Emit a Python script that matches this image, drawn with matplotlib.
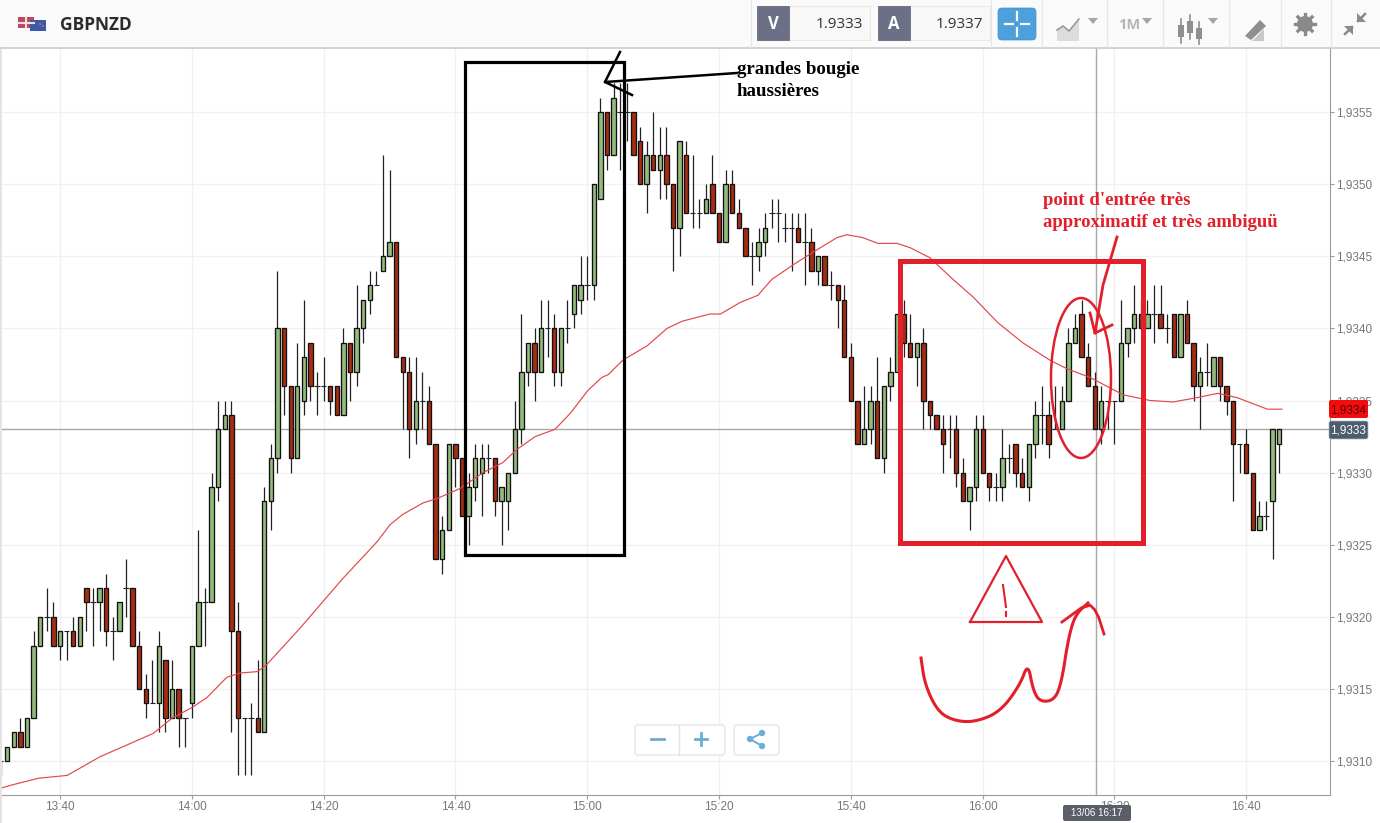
import numpy as np
import matplotlib
matplotlib.use('Agg')
import matplotlib.pyplot as plt
from matplotlib.patches import Rectangle, Ellipse, FancyBboxPatch, Polygon, Circle

# candles, one per minute from 13:31, prices as pips above 1.9300
opens = [10,10,11,12,11,13,18,20,20,18,19,19,18,22,21,21,22,19,19,22,22,18,15,14,14,17,13,15,13,
         14,18,21,21,29,33,34,19,13,13,13,12,28,31,40,36,31,35,39,36,36,36,36,34,39,37,40,42,43,44,45,46,38,37,33,35,35,32,24,26,
         32,31,27,29,30,31,31,28,28,30,33,37,39,37,40,40,37,40,41,42,
         43,43,49,55,52,55,55,55,53,50,52,51,52,50,47,52,48,48,48,50,48,46,50,48,47,45,45,46,48,48,47,47,47,46,46,44,45,43,43,42,
         38,35,32,33,35,31,36,37,41,39,38,39,35,34,33,33,33,30,28,29,
         33,30,29,29,31,32,30,29,32,34,34,33,33,35,39,41,38,36,33,35,35,35,39,40,41,40,41,41,40,41,38,41,39,36,37,36,38,36,35,32,32,30,26,27,28,32]
closes = [10,11,12,11,13,18,20,20,18,19,19,18,20,21,21,22,19,19,21,22,18,15,14,14,18,13,15,13,13,
          18,21,21,29,33,34,19,13,13,13,12,28,31,40,36,31,36,38,36,36,36,35,34,39,37,40,42,43,43,45,46,38,37,33,35,35,32,24,26,32,
          31,27,29,31,31,31,28,29,30,33,37,39,37,40,40,37,40,40,43,43,
          43,50,55,52,56,55,55,52,50,52,51,52,50,47,53,48,48,48,49,48,46,50,48,47,45,45,46,47,48,48,47,47,46,46,44,45,43,43,42,38,
          35,32,33,35,31,36,37,41,39,38,39,35,34,33,32,33,30,28,29,33,
          30,29,29,31,31,30,29,32,34,34,32,33,35,39,40,38,36,33,35,35,35,39,40,41,40,41,41,40,40,38,41,39,36,37,37,38,36,35,32,32,30,26,27,27,33,33]
highs = [10,11,12,13,13,19,20,22,21,19,19,20,20,22,22,22,23,20,21,24,22,19,16,17,19,17,17,15,13,
         18,26,22,30,35,35,35,21,13,14,17,29,32,44,40,36,39,42,39,37,38,36,36,40,39,43,42,44,44,52,51,46,38,38,38,37,36,32,27,32,
         32,31,30,32,32,32,31,29,30,35,41,39,40,42,42,41,40,42,43,45,
         45,50,56,55,57,57,57,55,54,53,55,54,54,50,53,53,52,49,50,52,48,51,51,49,47,46,47,48,49,49,48,48,48,48,47,45,45,44,43,43,
         39,35,36,36,38,36,38,41,42,41,39,40,35,34,34,34,34,31,29,34,
         34,30,30,33,32,32,31,32,35,36,35,36,36,40,41,42,39,37,36,35,35,42,40,43,42,42,43,43,41,41,41,42,39,38,39,38,38,36,35,32,33,30,28,28,33,33]
lows = [9,10,11,11,11,13,18,19,18,17,17,18,18,19,18,19,18,17,19,20,18,15,13,14,12,12,13,11,11,
        13,18,18,21,28,33,12,9,9,9,12,12,26,30,34,30,31,34,35,34,35,34,34,34,35,36,39,41,43,44,45,38,33,31,32,33,32,24,23,26,
        29,27,25,28,27,30,27,25,26,30,32,36,35,37,38,36,36,39,40,41,
        42,42,49,51,52,51,53,52,50,48,51,49,49,44,45,48,47,47,48,48,46,46,48,47,45,43,44,45,47,46,46,44,46,43,44,43,43,42,40,38,
        35,32,32,32,31,30,35,37,38,38,36,33,33,33,30,31,29,28,26,28,
        30,28,28,28,30,29,29,28,31,32,31,33,33,35,39,38,36,33,32,33,32,35,38,39,40,40,39,40,39,38,38,39,35,33,36,36,35,34,28,30,30,26,26,26,24,30]

# moving average: minutes after 13:31, pips
ma_minutes = [0,1.4,5.7,10.1,15.1,19.6,23.1,26.1,29,31.3,34.3,36.3,39,40.4,42.8,45.4,51.8,57.1,59.1,61,64.1,66.2,69.7,
              73.2,76.2,78.3,81.1,84.1,86.4,89.1,91.2,92.2,94.4,98.1,101.1,103.4,107.6,109.2,112.2,114.9,117,120.2,
              123.3,126.9,128.4,130.8,133.1,136,138,141,144.5,147.5,151.3,155.1,159.2,161.8,165.3,170.3,174.4,177.9,
              181.5,184.7,187.6,192.2,194.4]
ma_pips = [8.1,8.3,8.8,9,10.3,11.2,11.9,13,13.7,14.4,15.8,16.1,16.2,16.7,17.9,19.2,22.6,25.2,26.4,27.1,27.9,28.2,28.9,
           30,30.7,31.6,32.5,33,34.1,35.7,36.6,36.8,37.8,38.8,40,40.5,41,41,41.8,42.3,43.4,44.4,
           45.3,46.3,46.5,46.3,45.9,45.9,45.6,44.9,43.4,42.2,40.4,39,37.8,37.2,36.6,35.4,35,34.9,
           35.2,35.5,35.2,34.4,34.4]

time_ticks = [9,29,49,69,89,109,129,149,169,189]
time_labels = ['13:40','14:00','14:20','14:40','15:00','15:20','15:40','16:00','16:20','16:40']
price_ticks = [1.9310,1.9315,1.9320,1.9325,1.9330,1.9335,1.9340,1.9345,1.9350,1.9355]


def price(p):
    return 1.93 + np.asarray(p, dtype=float) * 0.0001


def soften(xs, ys, rounds=3):
    # rounds off the corners of the hand drawn strokes
    pts = np.column_stack([xs, ys]).astype(float)
    for _ in range(rounds):
        q = 0.75 * pts[:-1] + 0.25 * pts[1:]
        r = 0.25 * pts[:-1] + 0.75 * pts[1:]
        mid = np.empty((q.shape[0] * 2, 2))
        mid[0::2] = q
        mid[1::2] = r
        pts = np.vstack([pts[0], mid, pts[-1]])
    return pts[:, 0], pts[:, 1]


o = price(opens)
c = price(closes)
h = price(highs)
l = price(lows)
t = np.arange(len(o))

GREEN = '#93bb7e'
RED = '#a62d13'
DRAW = '#e2202c'
GRID = '#f1f1f1'
LINE = '#9c9c9c'
TXT = '#777777'

plt.rcParams['font.family'] = ['Liberation Sans', 'DejaVu Sans']
fig = plt.figure(figsize=(13.8, 8.23), dpi=100)
ax = fig.add_axes([0, 28 / 823, 1330 / 1380, 747 / 823])

ax.vlines(t, l, h, color='#222222', lw=0.9, zorder=3)
up = c > o
down = c < o
ax.bar(t[up], (c - o)[up], bottom=o[up], width=0.66, color=GREEN, edgecolor='#111111', lw=0.95, zorder=4)
ax.bar(t[down], (o - c)[down], bottom=c[down], width=0.66, color=RED, edgecolor='#111111', lw=0.95, zorder=4)
flat = c == o
ax.hlines(o[flat], t[flat] - 0.42, t[flat] + 0.42, color='#222222', lw=0.8, zorder=4)
ax.plot(ma_minutes, price(ma_pips), color='#e2474a', lw=0.85, zorder=5)

ax.axhline(price(33), color='#a8a8a8', lw=1, zorder=2)
ax.axvline(166.2, color='#a8a8a8', lw=1, zorder=2)

ax.set_xlim(-0.106, 201.7)
ax.set_ylim(price(7.64), price(59.45))
ax.set_xticks(time_ticks, time_labels)
ax.set_yticks(price_ticks, [f'{v:.4f}'.replace('.', ',') for v in price_ticks])
ax.yaxis.tick_right()
ax.grid(True, color=GRID, lw=1)
ax.set_axisbelow(True)
ax.tick_params(axis='both', labelsize=8.5, colors=TXT, length=3, width=0.8, color=LINE, pad=1)
for s in ['top', 'left']:
    ax.spines[s].set_visible(False)
for s in ['right', 'bottom']:
    ax.spines[s].set_color(LINE)

# overlay in pixels: toolbar, labels and the hand drawn marks
ov = fig.add_axes([0, 0, 1, 1], zorder=10)
ov.set_xlim(0, 1380)
ov.set_ylim(823, 0)
ov.axis('off')
ov.patch.set_alpha(0)

ov.add_patch(Rectangle((0, 0), 1380, 47, fc='#fafafa', ec='none'))
ov.plot([0, 1380], [47.5, 47.5], color='#cbcbcb', lw=1.2)
ov.add_patch(Rectangle((0, 47), 2, 776, fc='#e4e4e4', ec='none'))

# flags
ov.add_patch(Rectangle((18, 17), 16, 11, fc='#b84a5e', ec='none'))
ov.plot([18, 34], [22.5, 22.5], color='#f2dfe2', lw=1.5)
ov.plot([26, 26], [17, 28], color='#f2dfe2', lw=1.5)
ov.add_patch(Rectangle((30, 20), 16, 11, fc='#3c5aa8', ec='none'))
ov.add_patch(Circle((40, 24), 1, fc='#e06070', ec='none'))
ov.add_patch(Circle((43, 26), 1, fc='#e06070', ec='none'))
ov.text(60, 25, 'GBPNZD', family='Open Sans', weight='bold', fontsize=12.5, color='#2b2b2b', va='center')

# bid / ask boxes
for x0, x1, letter, val in [(757, 870, 'V', '1.9333'), (878, 990, 'A', '1.9337')]:
    ov.add_patch(Rectangle((x0, 6), x1 - x0, 34, fc='#f8f8f8', ec='#e8e8e8', lw=0.8))
    ov.add_patch(Rectangle((x0, 6), 32, 34, fc='#6b7086', ec='#5a5f75', lw=0.5))
    ov.text(x0 + 16, 24, letter, family='Open Sans', weight='bold', fontsize=12, color='white', ha='center', va='center')
    ov.text(x1 - 7, 24, val, family='Open Sans', fontsize=11, color='#333333', ha='right', va='center')
ov.add_patch(FancyBboxPatch((1000, 10), 34, 28, boxstyle='round,pad=2,rounding_size=4', fc='#4da0dc', ec='#4090cc', lw=0.5))
for a, b in [((1005, 24), (1013, 24)), ((1021, 24), (1029, 24)), ((1017, 12), (1017, 20)), ((1017, 28), (1017, 36))]:
    ov.plot([a[0], b[0]], [a[1], b[1]], color='white', lw=1.6)
for x in [751, 991, 1042, 1107, 1163, 1229, 1281, 1331]:
    ov.plot([x, x], [0, 47], color='#e6e6e6', lw=0.9)

ov.add_patch(Polygon([(1057, 41), (1057, 30), (1063, 26), (1069, 31), (1079, 19), (1079, 41)], fc='#dcdcdc', ec='none'))
ov.plot([1057, 1063, 1069, 1079], [30, 26, 31, 19], color='#999999', lw=1.2)
for x in [1093, 1147, 1213]:
    ov.add_patch(Polygon([(x - 5, 18), (x + 5, 18), (x, 24)], fc='#a5a5a5', ec='none'))
ov.text(1129, 25, '1M', family='Open Sans', weight='bold', fontsize=10.5, color='#b5b5b5', ha='center', va='center')
for x, top, bot, y0, y1 in [(1181, 19, 43, 25, 37), (1190, 15, 39, 21, 33), (1199, 22, 44, 28, 39)]:
    ov.plot([x, x], [top, bot], color='#8f8f8f', lw=1.2)
    ov.add_patch(Rectangle((x - 3, y0), 6, y1 - y0, fc='#8f8f8f', ec='none'))
ov.add_patch(Polygon([(1252, 41), (1264, 29), (1264, 41)], fc='#c8c8c8', ec='none'))
ov.add_patch(Polygon([(1245, 36), (1260, 20), (1266, 26), (1251, 40)], fc='#8f8f8f', ec='none'))
for a in np.deg2rad(np.arange(0, 360, 45)):
    ov.plot([1305, 1305 + 10 * np.cos(a)], [24, 24 + 10 * np.sin(a)], color='#8a8a8a', lw=2.4)
ov.add_patch(Circle((1305, 24), 8, fc='#8a8a8a', ec='none'))
ov.add_patch(Circle((1305, 24), 3.5, fc='#fafafa', ec='none'))
ov.plot([1345, 1352], [34, 27], color='#8a8a8a', lw=1.8)
ov.plot([1358, 1365], [21, 14], color='#8a8a8a', lw=1.8)
ov.add_patch(Polygon([(1344, 26), (1353, 26), (1353, 35)], fc='#8a8a8a', ec='none'))
ov.add_patch(Polygon([(1357, 13), (1357, 22), (1366, 22)], fc='#8a8a8a', ec='none'))

# price tags and crosshair time
ov.add_patch(FancyBboxPatch((1330, 401), 37, 16, boxstyle='round,pad=1,rounding_size=2', fc='#f20d0d', ec='none'))
ov.text(1348, 410, '1,9334', fontsize=8.5, color='#5a0000', ha='center', va='center')
ov.add_patch(FancyBboxPatch((1330, 422), 37, 16, boxstyle='round,pad=1,rounding_size=2', fc='#4c5c6c', ec='#a8b8c8', lw=0.5))
ov.text(1348, 430.5, '1,9333', fontsize=8.5, color='white', ha='center', va='center')
ov.add_patch(FancyBboxPatch((1064, 806), 66, 14, boxstyle='round,pad=1,rounding_size=2', fc='#5a5f6a', ec='none'))
ov.text(1097, 813.5, '13/06 16:17', fontsize=7, color='white', ha='center', va='center')

# zoom buttons
for x0, w in [(636, 88), (735, 43)]:
    ov.add_patch(FancyBboxPatch((x0, 726), w, 28, boxstyle='round,pad=1,rounding_size=3', fc='white', ec='#e6e6e6', lw=1))
ov.plot([679, 679], [725, 755], color='#e4e4e4', lw=1)
ov.plot([651, 664], [739, 739], color='#6aaed6', lw=2)
ov.plot([695, 707], [739, 739], color='#6aaed6', lw=2)
ov.plot([701, 701], [733, 745], color='#6aaed6', lw=2)
ov.plot([762, 750, 762], [733, 739, 746], color='#6aaed6', lw=1.4)
for x, y in [(762, 733), (750, 739), (762, 746)]:
    ov.add_patch(Circle((x, y), 3.2, fc='#6aaed6', ec='none'))

# black notes
ov.add_patch(Rectangle((465, 62), 159, 493, fc='none', ec='black', lw=2.3))
ov.plot([737, 605], [73, 82], color='black', lw=1.8)
ov.plot([620, 612, 605, 632], [52, 68, 82, 95], color='black', lw=1.8)
ov.text(737, 69, 'grandes bougie', family='Liberation Serif', weight='bold', fontsize=13.6, color='black', va='center')
ov.text(737, 91, 'haussières', family='Liberation Serif', weight='bold', fontsize=13.6, color='black', va='center')

# red notes
ov.add_patch(Rectangle((900, 261), 243, 282, fc='none', ec=DRAW, lw=3.6))
ov.add_patch(Ellipse((1081, 378), 60, 160, angle=0, fc='none', ec=DRAW, lw=1.8))
ov.plot([1117, 1103, 1095], [237, 285, 333], color=DRAW, lw=2)
ov.plot([1090, 1095, 1112], [313, 333, 325], color=DRAW, lw=2)
ov.plot([970, 1006, 1042, 970], [622, 556, 622, 622], color=DRAW, lw=1.6)
ov.plot([1003, 1006], [585, 607], color=DRAW, lw=1.5)
ov.plot([1006, 1006], [612, 616], color=DRAW, lw=1.5)
sx, sy = soften([921, 925, 938, 955, 975, 1000, 1020, 1028, 1033, 1040, 1055, 1062, 1068, 1075, 1088],
                [658, 685, 712, 721, 722, 712, 685, 663, 690, 702, 700, 680, 640, 615, 603])
ov.plot(sx, sy, color=DRAW, lw=2.2)
ax_x, ax_y = soften([1062, 1088, 1097, 1104], [622, 603, 612, 634], rounds=1)
ov.plot(ax_x, ax_y, color=DRAW, lw=2)
ov.text(1043, 200, "point d'entrée très", family='Liberation Serif', weight='bold', fontsize=13.5, color=DRAW, va='center')
ov.text(1043, 222, 'approximatif et très ambiguü', family='Liberation Serif', weight='bold', fontsize=13.5, color=DRAW, va='center')

fig.savefig('out.png', dpi=100)
plt.close()
